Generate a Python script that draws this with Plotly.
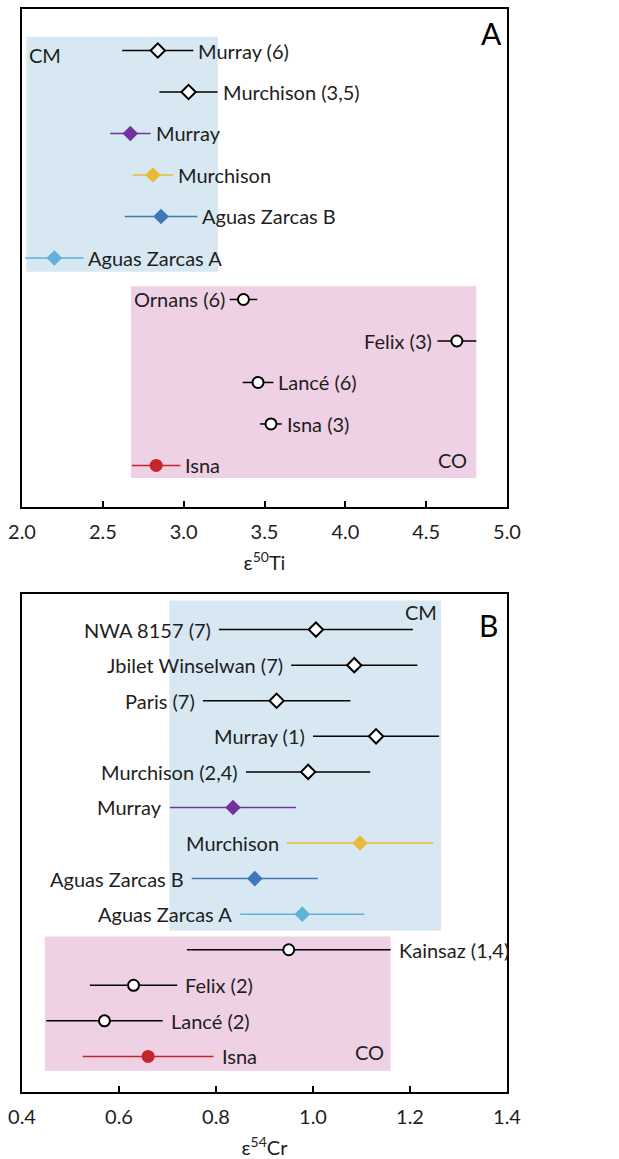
import plotly.graph_objects as go

# ---------------- Panel A: epsilon 50Ti ----------------
a_names = ["Murray (6)", "Murchison (3,5)", "Murray", "Murchison", "Aguas Zarcas B",
           "Aguas Zarcas A", "Ornans (6)", "Felix (3)", "Lancé (6)", "Isna (3)", "Isna"]
a_vals = [2.84, 3.03, 2.67, 2.81, 2.86, 2.20, 3.37, 4.69, 3.46, 3.54, 2.83]
a_errs = [0.22, 0.18, 0.125, 0.125, 0.225, 0.18, 0.085, 0.12, 0.095, 0.067, 0.15]
a_side = ["right", "right", "right", "right", "right", "right",
          "left", "left", "right", "right", "right"]
a_style = ["open_d", "open_d", "murray", "murchison", "azb", "aza",
           "open_c", "open_c", "open_c", "open_c", "isna"]
a_ticks = [2.0, 2.5, 3.0, 3.5, 4.0, 4.5, 5.0]
a_cm = [2.027, 3.212, 5.67, 11.33]   # x0, x1, y0, y1
a_co = [2.674, 4.81, 0.7, 5.32]

# ---------------- Panel B: epsilon 54Cr ----------------
b_names = ["NWA 8157 (7)", "Jbilet Winselwan (7)", "Paris (7)", "Murray (1)",
           "Murchison (2,4)", "Murray", "Murchison", "Aguas Zarcas B", "Aguas Zarcas A",
           "Kainsaz (1,4)", "Felix (2)", "Lancé (2)", "Isna"]
b_vals = [1.006, 1.085, 0.925, 1.13, 0.99, 0.835, 1.097, 0.88, 0.978, 0.95, 0.63, 0.57, 0.66]
b_errs = [0.20, 0.13, 0.152, 0.13, 0.128, 0.13, 0.151, 0.13, 0.128, 0.21, 0.09, 0.12, 0.135]
b_side = ["left"] * 9 + ["right"] * 4
b_style = ["open_d", "open_d", "open_d", "open_d", "open_d", "murray", "murchison",
           "azb", "aza", "open_c", "open_c", "open_c", "isna"]
b_ticks = [0.4, 0.6, 0.8, 1.0, 1.2, 1.4]
b_cm = [0.704, 1.264, 4.54, 13.82]
b_co = [0.447, 1.16, 0.6, 4.37]

STYLES = {
    "open_d": dict(symbol="diamond", size=11, fill="white", line="black", lw=2, err="black"),
    "open_c": dict(symbol="circle", size=11, fill="white", line="black", lw=2, err="black"),
    "murray": dict(symbol="diamond", size=12, fill="#7233a0", line="#7233a0", lw=0, err="#7233a0"),
    "murchison": dict(symbol="diamond", size=12, fill="#e8bc3a", line="#e8bc3a", lw=0, err="#e8bc3a"),
    "azb": dict(symbol="diamond", size=12, fill="#3e78b8", line="#3e78b8", lw=0, err="#3e78b8"),
    "aza": dict(symbol="diamond", size=12, fill="#62b1d6", line="#62b1d6", lw=0, err="#62b1d6"),
    "isna": dict(symbol="circle", size=13, fill="#c4262c", line="#c4262c", lw=0, err="#c4262c"),
}
BLUE_BG = "#d7e8f3"
PINK_BG = "#eed1e4"
FONT = "Lato"
TXT = "#1e1e1e"
FS = 20

fig = go.Figure()
annotations = []
shapes = []


def add_panel(names, vals, errs, sides, styles, xa, ya, cm, co, gap):
    n = len(names)
    rows = list(range(n, 0, -1))
    shapes.append(dict(type="rect", xref=xa, yref=ya, x0=cm[0], x1=cm[1], y0=cm[2], y1=cm[3],
                       fillcolor=BLUE_BG, line=dict(width=0), layer="below"))
    shapes.append(dict(type="rect", xref=xa, yref=ya, x0=co[0], x1=co[1], y0=co[2], y1=co[3],
                       fillcolor=PINK_BG, line=dict(width=0), layer="below"))
    for name, v, e, s, st, r in zip(names, vals, errs, sides, styles, rows):
        S = STYLES[st]
        fig.add_trace(go.Scatter(
            x=[v], y=[r], mode="markers", xaxis=xa, yaxis=ya, showlegend=False,
            error_x=dict(type="data", array=[e], color=S["err"], thickness=1.5, width=0),
            marker=dict(symbol=S["symbol"], size=S["size"], color=S["fill"],
                        line=dict(color=S["line"], width=S["lw"])),
            hoverinfo="skip"))
        if s == "right":
            annotations.append(dict(x=v + e, y=r, xref=xa, yref=ya, text=name, showarrow=False,
                                    xanchor="left", yanchor="middle", xshift=gap - 2,
                                    font=dict(family=FONT, size=FS, color=TXT)))
        else:
            annotations.append(dict(x=v - e, y=r, xref=xa, yref=ya, text=name, showarrow=False,
                                    xanchor="right", yanchor="middle", xshift=-(gap - 2),
                                    font=dict(family=FONT, size=FS, color=TXT)))


add_panel(a_names, a_vals, a_errs, a_side, a_style, "x", "y", a_cm, a_co, 5)
add_panel(b_names, b_vals, b_errs, b_side, b_style, "x2", "y2", b_cm, b_co, 8)

# group labels
annotations += [
    dict(x=a_cm[0], y=a_cm[3], xref="x", yref="y", text="CM", showarrow=False,
         xanchor="left", yanchor="top", xshift=1, yshift=-4,
         font=dict(family=FONT, size=FS, color=TXT)),
    dict(x=a_co[1], y=a_co[2], xref="x", yref="y", text="CO", showarrow=False,
         xanchor="right", yanchor="bottom", xshift=-7, yshift=4,
         font=dict(family=FONT, size=FS, color=TXT)),
    dict(x=b_cm[1], y=b_cm[3], xref="x2", yref="y2", text="CM", showarrow=False,
         xanchor="right", yanchor="top", xshift=-2, yshift=2,
         font=dict(family=FONT, size=FS, color=TXT)),
    dict(x=b_co[1], y=b_co[2], xref="x2", yref="y2", text="CO", showarrow=False,
         xanchor="right", yanchor="bottom", xshift=-5, yshift=5,
         font=dict(family=FONT, size=FS, color=TXT)),
    dict(x=0.968, y=0.952, xref="x domain", yref="y domain", text="A", showarrow=False,
         xanchor="center", yanchor="middle", font=dict(family=FONT, size=30, color="black")),
    dict(x=0.961, y=0.938, xref="x2 domain", yref="y2 domain", text="B", showarrow=False,
         xanchor="center", yanchor="middle", font=dict(family=FONT, size=30, color="black")),
]

axis_common = dict(showline=True, mirror=True, linecolor="black", linewidth=2,
                   showgrid=False, zeroline=False)
xcommon = dict(axis_common, ticks="inside", ticklen=6, tickwidth=1.5, tickcolor="black",
               tickfont=dict(family=FONT, size=FS, color=TXT), ticklabelstandoff=6,
               ticklabeloverflow="allow")
ycommon = dict(axis_common, showticklabels=False, ticks="")

fig.update_layout(
    width=619, height=1159,
    margin=dict(l=22, r=112, t=9, b=67, autoexpand=False),
    paper_bgcolor="white", plot_bgcolor="white",
    xaxis=dict(xcommon, range=[2.0, 5.0], tickvals=a_ticks,
               ticktext=[f"{t:.1f}" for t in a_ticks], anchor="y",
               title=dict(text="ε<sup>50</sup>Ti", standoff=14,
                          font=dict(family=FONT, size=FS, color=TXT))),
    yaxis=dict(ycommon, range=[0, len(a_names) + 1], domain=[0.5402, 1.0], anchor="x"),
    xaxis2=dict(xcommon, range=[0.4, 1.4], tickvals=b_ticks,
                ticktext=[f"{t:.1f}" for t in b_ticks], anchor="y2",
                title=dict(text="ε<sup>54</sup>Cr", standoff=19,
                           font=dict(family=FONT, size=FS, color=TXT))),
    yaxis2=dict(ycommon, range=[0, len(b_names) + 1], domain=[0.0, 0.4598], anchor="x2"),
    shapes=shapes,
    annotations=annotations,
)

# remove the default page margin so the figure sits at the window's top-left corner
fig.write_html("out.html", config={"displayModeBar": False},
               post_script="document.body.style.margin='0px';")
